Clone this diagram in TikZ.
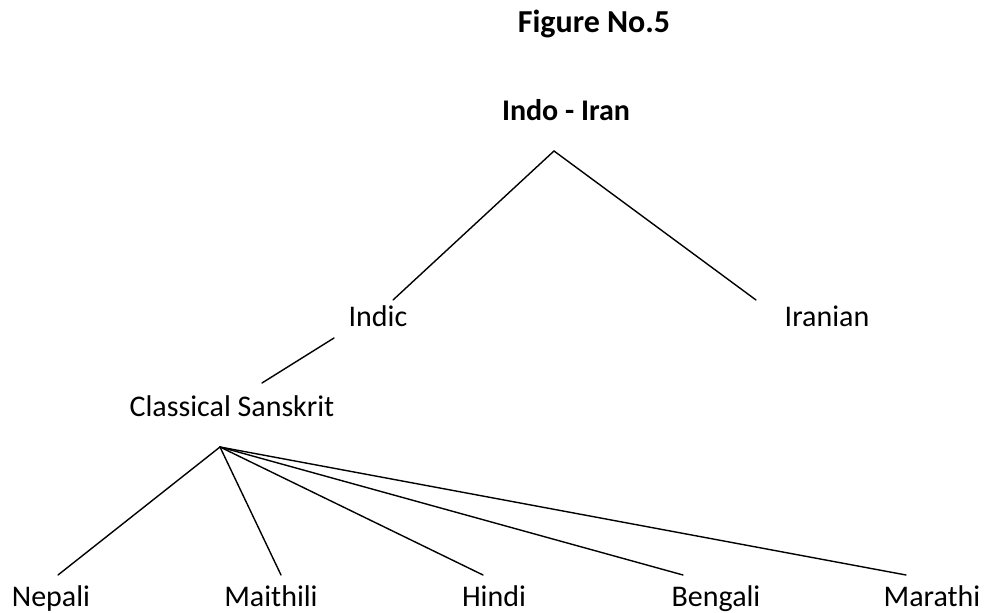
\documentclass[tikz,border=0pt]{standalone}
\usepackage{fontspec}
\setmainfont{Carlito}
\usepackage{tikz}
\usetikzlibrary{calc}
\tikzset{
  lang/.style={font=\fontsize{15}{18}\selectfont, inner sep=0pt, anchor=base},
  head/.style={lang, font=\fontsize{15}{18}\selectfont\bfseries},
  title/.style={lang, font=\fontsize{16}{19}\selectfont\bfseries},
  branch/.style={draw=black, line width=0.7pt, line cap=round}
}
\begin{document}
\begin{tikzpicture}[x=0.5pt,y=-0.5pt]
  \useasboundingbox (0,0) rectangle (990,613);
  \node[title] (fig) at (594,33) {Figure No.5};
  \node[head] (indoiran) at (566,121) {Indo - Iran};
  \node[lang] (indic) at (378,327) {Indic};
  \node[lang] (iranian) at (827,327) {Iranian};
  \node[lang] (sanskrit) at (232,417) {Classical Sanskrit};
  \node[lang] (nepali) at (51,607) {Nepali};
  \node[lang] (maithili) at (271,607) {Maithili};
  \node[lang] (hindi) at (494,607) {Hindi};
  \node[lang] (bengali) at (716,607) {Bengali};
  \node[lang] (marathi) at (932,607) {Marathi};
  % fork points and line ends
  \coordinate (iifork) at ($(indoiran.base)+(-12,30)$);
  \coordinate (indicup) at ($(indic.base)+(15,-27)$);
  \coordinate (indicdown) at ($(indic.base)+(-44,11)$);
  \coordinate (iranianup) at ($(iranian.base)+(-71,-27)$);
  \coordinate (csup) at ($(sanskrit.base)+(30,-34)$);
  \coordinate (csfork) at ($(sanskrit.base)+(-12,30)$);
  \coordinate (nepaliup) at ($(nepali.base)+(7,-32)$);
  \coordinate (maithiliup) at ($(maithili.base)+(10,-32)$);
  \coordinate (hindiup) at ($(hindi.base)+(-11,-32)$);
  \coordinate (bengaliup) at ($(bengali.base)+(-33,-32)$);
  \coordinate (marathiup) at ($(marathi.base)+(-26,-32)$);
  \draw[branch] (indicup) -- (iifork) -- (iranianup);
  \draw[branch] (indicdown) -- (csup);
  \foreach \leaf in {nepaliup,maithiliup,hindiup,bengaliup,marathiup}
    \draw[branch] (csfork) -- (\leaf);
\end{tikzpicture}
\end{document}
